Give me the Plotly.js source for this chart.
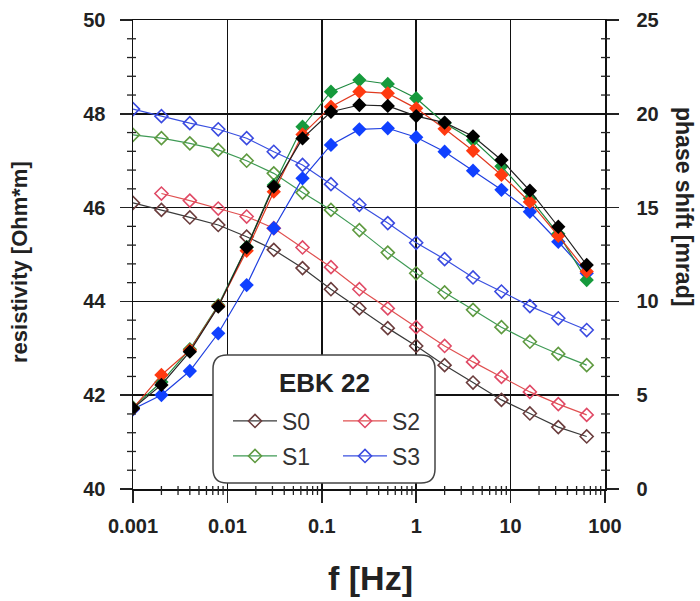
<!DOCTYPE html>
<html><head><meta charset="utf-8">
<script src="https://cdn.plot.ly/plotly-3.0.1.min.js"></script>
<style>html,body{margin:0;padding:0;background:#fff}</style>
</head><body><div id="chart" style="width:700px;height:601px"></div>
<script>
const freq = [0.001, 0.002, 0.004, 0.008, 0.016, 0.031, 0.0625, 0.125, 0.25, 0.5, 1, 2, 4, 8, 16, 32, 64];
const freqS2 = [0.002, 0.004, 0.008, 0.016, 0.031, 0.0625, 0.125, 0.25, 0.5, 1, 2, 4, 8, 16, 32, 64];

// resistivity [Ohm*m] (open diamonds, left axis)
const resS0 = [46.10, 45.95, 45.79, 45.63, 45.38, 45.10, 44.71, 44.26, 43.85, 43.43, 43.05, 42.64, 42.27, 41.90, 41.61, 41.32, 41.12];
const resS1 = [47.55, 47.48, 47.37, 47.23, 47.00, 46.73, 46.32, 45.95, 45.52, 45.04, 44.60, 44.19, 43.82, 43.45, 43.14, 42.88, 42.64];
const resS2 = [46.30, 46.15, 45.98, 45.81, 45.56, 45.15, 44.73, 44.26, 43.85, 43.45, 43.05, 42.71, 42.39, 42.07, 41.81, 41.58];
const resS3 = [48.10, 47.95, 47.80, 47.67, 47.48, 47.19, 46.91, 46.50, 46.06, 45.67, 45.25, 44.90, 44.51, 44.21, 43.90, 43.64, 43.39];

// phase shift [mrad] (filled diamonds, right axis)
const phiS0 = [4.30, 5.55, 7.32, 9.72, 12.88, 16.12, 18.69, 20.11, 20.47, 20.42, 19.88, 19.53, 18.80, 17.54, 15.90, 13.98, 11.94];
const phiS1 = [4.35, 5.70, 7.45, 9.80, 12.90, 16.20, 19.31, 21.18, 21.80, 21.59, 20.83, 19.50, 18.60, 17.20, 15.50, 13.60, 11.14];
const phiS2 = [4.30, 6.08, 7.40, 9.75, 12.70, 15.85, 18.90, 20.38, 21.18, 21.09, 20.29, 19.20, 18.03, 16.74, 15.30, 13.50, 11.60];
const phiS3 = [4.25, 5.01, 6.29, 8.30, 10.87, 13.90, 16.56, 18.34, 19.17, 19.23, 18.75, 17.98, 16.97, 15.95, 14.78, 13.18, 11.50];

const xTickVals = [0.001, 0.01, 0.1, 1, 10, 100];
const xTickText = ['0.001', '0.01', '0.1', '1', '10', '100'];
const xMinorVals = [0.002, 0.003, 0.004, 0.005, 0.006, 0.007, 0.008, 0.009,
                    0.02, 0.03, 0.04, 0.05, 0.06, 0.07, 0.08, 0.09,
                    0.2, 0.3, 0.4, 0.5, 0.6, 0.7, 0.8, 0.9,
                    2, 3, 4, 5, 6, 7, 8, 9,
                    20, 30, 40, 50, 60, 70, 80, 90];
const yTickVals = [40, 42, 44, 46, 48, 50];
const yMinorVals = [40.4, 40.8, 41.2, 41.6, 42.4, 42.8, 43.2, 43.6, 44.4, 44.8, 45.2, 45.6,
                    46.4, 46.8, 47.2, 47.6, 48.4, 48.8, 49.2, 49.6];
const y2TickVals = [0, 5, 10, 15, 20, 25];
const y2MinorVals = [1, 2, 3, 4, 6, 7, 8, 9, 11, 12, 13, 14, 16, 17, 18, 19, 21, 22, 23, 24];
const seriesNames = ['S0', 'S1', 'S2', 'S3'];
const legendTitle = 'EBK 22';

const openCol = {S0: '#6a3c3c', S1: '#5f9a40', S2: '#e04a66', S3: '#3a4ae0'};
const openLine = {S0: '#3a3a3a', S1: '#3f9a55', S2: '#e05050', S3: '#3a50e0'};
const fillCol = {S0: '#000000', S1: '#169a3c', S2: '#ff3a10', S3: '#1040ff'};
const fillLine = {S0: '#222222', S1: '#1f8a40', S2: '#e03a20', S3: '#2040e0'};
const legendIds = {S0: 'legend', S1: 'legend2', S2: 'legend3', S3: 'legend4'};

const resData = {S0: [freq, resS0], S1: [freq, resS1], S2: [freqS2, resS2], S3: [freq, resS3]};
const phiData = {S0: phiS0, S1: phiS1, S2: phiS2, S3: phiS3};

const traces = [];
seriesNames.forEach(n => {
  traces.push({
    x: resData[n][0], y: resData[n][1], name: n, type: 'scatter', mode: 'lines+markers',
    yaxis: 'y', legend: legendIds[n],
    line: {color: openLine[n], width: 1.2},
    marker: {symbol: 'diamond-open', size: 10, color: openCol[n], line: {width: 1.6, color: openCol[n]}}
  });
});
['S3', 'S1', 'S2', 'S0'].forEach(n => {
  traces.push({
    x: freq, y: phiData[n], name: n, type: 'scatter', mode: 'lines+markers',
    yaxis: 'y2', showlegend: false,
    line: {color: fillLine[n], width: 1.2},
    marker: {symbol: 'diamond', size: 11, color: fillCol[n]}
  });
});

const FF = 'Liberation Sans, Arial, sans-serif';
const tickFont = {family: FF, size: 20, color: '#222', weight: 'bold'};
const legFont = {family: FF, size: 23, color: '#333'};

function px2x(p) { return (p - 133) / 472; }
function py2y(p) { return (489 - p) / 469; }

const bx0 = px2x(213), bx1 = px2x(435), by0 = py2y(483), by1 = py2y(355);
const rx = 14 / 472, ry = 14 / 469;
const boxPath = `M ${bx0 + rx} ${by1} L ${bx1 - rx} ${by1} Q ${bx1} ${by1} ${bx1} ${by1 - ry} L ${bx1} ${by0 + ry} Q ${bx1} ${by0} ${bx1 - rx} ${by0} L ${bx0 + rx} ${by0} Q ${bx0} ${by0} ${bx0} ${by0 + ry} L ${bx0} ${by1 - ry} Q ${bx0} ${by1} ${bx0 + rx} ${by1} Z`;

function legendAt(px, py) {
  return {x: px2x(px), y: py2y(py), xanchor: 'left', yanchor: 'middle', bgcolor: 'rgba(0,0,0,0)',
          borderwidth: 0, font: legFont, itemwidth: 44};
}

// minor tick marks (crossing the axis line), placed through the axes' own scales
const minorLine = {color: '#222', width: 1.3};
const pxY = 1 / 469, pxX = 1 / 472;
const minorShapes = [];
xMinorVals.forEach(v => minorShapes.push({type: 'line', xref: 'x', yref: 'paper', x0: v, x1: v, y0: -6 * pxY, y1: 3 * pxY, line: minorLine, layer: 'above'}));
yMinorVals.forEach(v => minorShapes.push({type: 'line', xref: 'paper', yref: 'y', x0: -6 * pxX, x1: 3 * pxX, y0: v, y1: v, line: minorLine, layer: 'above'}));
y2MinorVals.forEach(v => minorShapes.push({type: 'line', xref: 'paper', yref: 'y2', x0: 1 - 4 * pxX, x1: 1 + 5 * pxX, y0: v, y1: v, line: minorLine, layer: 'above'}));

const layout = {
  width: 700, height: 601,
  margin: {l: 133, r: 95, t: 20, b: 112},
  paper_bgcolor: '#fff', plot_bgcolor: '#fff',
  font: {family: FF},
  xaxis: {
    type: 'log', range: [-3, 2], tickmode: 'array', tickvals: xTickVals, ticktext: xTickText,
    ticks: 'outside', ticklen: 12, tickwidth: 1.5, tickcolor: '#222',
    showgrid: true, gridcolor: '#111', gridwidth: 1.5,
    showline: true, linecolor: '#111', linewidth: 1.5, mirror: true,
    tickfont: tickFont, ticklabelstandoff: 6, zeroline: false
  },
  yaxis: {
    range: [40, 50], tickmode: 'array', tickvals: yTickVals,
    ticks: 'outside', ticklen: 12, tickwidth: 1.5, tickcolor: '#222',
    showgrid: true, gridcolor: '#111', gridwidth: 1.5,
    showline: true, linecolor: '#111', linewidth: 1.5, mirror: true,
    tickfont: tickFont, zeroline: false, ticklabelstandoff: 10
  },
  yaxis2: {
    range: [0, 25], overlaying: 'y', side: 'right', tickmode: 'array', tickvals: y2TickVals,
    ticks: 'outside', ticklen: 12, tickwidth: 1.5, tickcolor: '#222',
    showgrid: false, showline: true, linecolor: '#111', linewidth: 1.5,
    tickfont: tickFont, zeroline: false, ticklabelstandoff: 14
  },
  legend: legendAt(228, 421),
  legend2: legendAt(228, 456),
  legend3: legendAt(338, 421),
  legend4: legendAt(338, 456),
  shapes: minorShapes.concat([{type: 'path', xref: 'paper', yref: 'paper', path: boxPath, layer: 'above',
            fillcolor: '#ffffff', line: {color: '#444', width: 1.5}}]),
  annotations: [
    {text: legendTitle, xref: 'paper', yref: 'paper', x: px2x(324), y: py2y(383), xanchor: 'center', yanchor: 'middle',
     showarrow: false, font: {family: FF, size: 26, color: '#222', weight: 'bold'}},
    {text: 'resistivity [Ohm*m]', xref: 'paper', yref: 'paper', x: px2x(19), y: py2y(262), xanchor: 'center', yanchor: 'middle',
     textangle: -90, showarrow: false, font: {family: FF, size: 22, color: '#222', weight: 'bold'}},
    {text: 'phase shift [mrad]', xref: 'paper', yref: 'paper', x: px2x(684), y: py2y(206), xanchor: 'center', yanchor: 'middle',
     textangle: 90, showarrow: false, font: {family: FF, size: 23, color: '#222', weight: 'bold'}},
    {text: 'f [Hz]', xref: 'paper', yref: 'paper', x: px2x(370), y: py2y(578), xanchor: 'center', yanchor: 'middle',
     showarrow: false, font: {family: FF, size: 34, color: '#222', weight: 'bold'}}
  ]
};

Plotly.newPlot('chart', traces, layout, {displayModeBar: false, staticPlot: true});
</script></body></html>
